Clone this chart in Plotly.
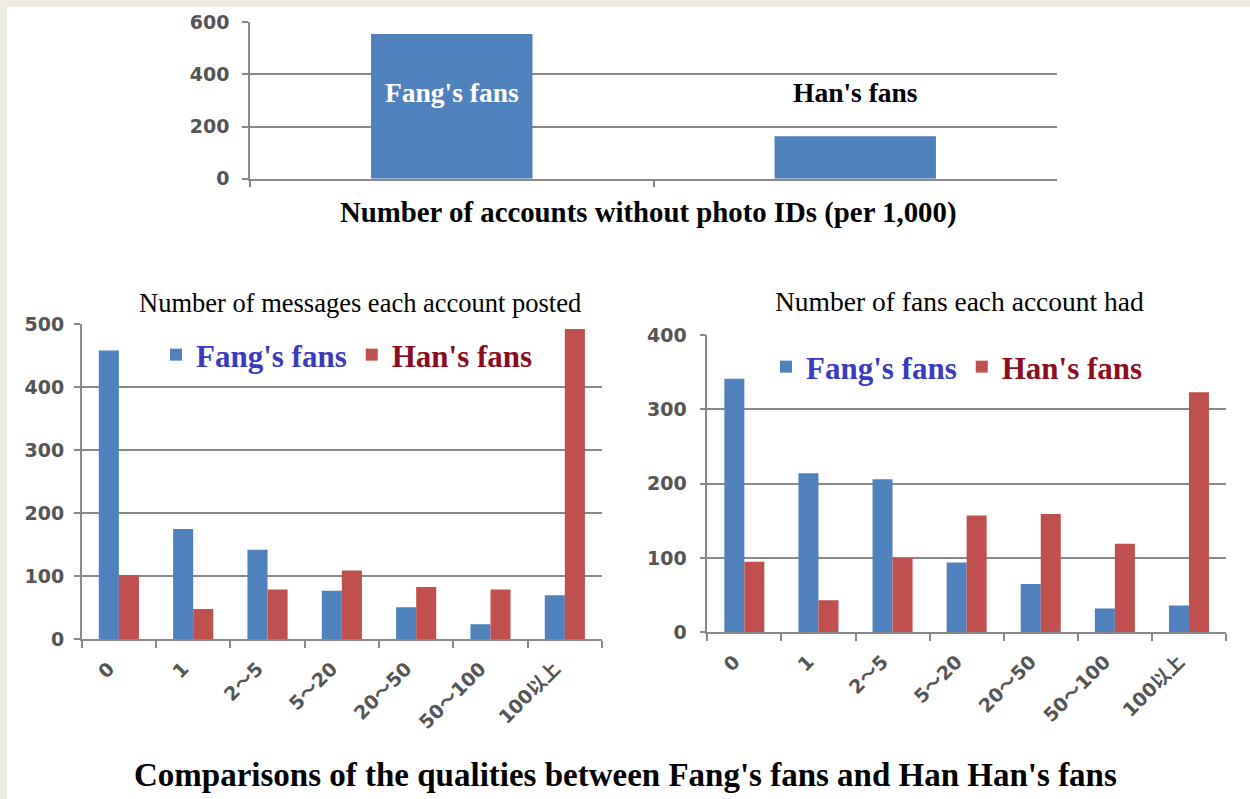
import plotly.graph_objects as go

W, H = 1250, 799

# ---------------- data ----------------
top_categories = ["Fang's fans", "Han's fans"]
top_values = [555, 163]

bins = ["0", "1", "2～5", "5～20", "20～50", "50～100", "100以上"]
msg_fang = [458, 175, 142, 77, 51, 24, 70]
msg_han = [102, 48, 79, 109, 83, 79, 492]
fans_fang = [341, 214, 206, 94, 65, 32, 36]
fans_han = [95, 43, 100, 157, 159, 119, 323]

series_names = ["Fang's fans", "Han's fans"]
top_title = "Number of accounts without photo IDs (per 1,000)"
left_title = "Number of messages each account posted"
right_title = "Number of fans each account had"
main_title = "Comparisons of the qualities between Fang's fans and Han Han's fans"

# ---------------- styles ----------------
BLUE = "#4F81BD"
RED = "#C0504D"
BLUE_TXT = "#3B3BBF"
RED_TXT = "#8C0D1F"
GRID = "#888888"
TICK_TXT = "#555555"
SERIF = "Liberation Serif, Times New Roman, serif"
SANS = "DejaVu Sans, Noto Sans CJK SC, sans-serif"


def px(x):
    return x / W


def py(y):
    return 1 - y / H


fig = go.Figure()

# top chart
fig.add_trace(go.Bar(
    x=top_categories, y=top_values, width=0.4,
    marker=dict(color=BLUE, line=dict(width=0)),
    xaxis="x", yaxis="y", showlegend=False, hoverinfo="x+y"))

# bottom-left chart
fig.add_trace(go.Bar(
    x=bins, y=msg_fang, name=f"<span style='color:{BLUE_TXT}'>{series_names[0]}</span>",
    marker=dict(color=BLUE, line=dict(width=0)), xaxis="x2", yaxis="y2", legend="legend"))
fig.add_trace(go.Bar(
    x=bins, y=msg_han, name=f"<span style='color:{RED_TXT}'>{series_names[1]}</span>",
    marker=dict(color=RED, line=dict(width=0)), xaxis="x2", yaxis="y2", legend="legend"))

# bottom-right chart
fig.add_trace(go.Bar(
    x=bins, y=fans_fang, name=f"<span style='color:{BLUE_TXT}'>{series_names[0]}</span>",
    marker=dict(color=BLUE, line=dict(width=0)), xaxis="x3", yaxis="y3", legend="legend2"))
fig.add_trace(go.Bar(
    x=bins, y=fans_han, name=f"<span style='color:{RED_TXT}'>{series_names[1]}</span>",
    marker=dict(color=RED, line=dict(width=0)), xaxis="x3", yaxis="y3", legend="legend2"))

xcommon = dict(type="category", showgrid=False, showline=True, linecolor=GRID, linewidth=1.5,
               ticks="outside", tickson="boundaries", ticklen=7, tickcolor=GRID, tickwidth=1.5,
               fixedrange=True, automargin=False)
ycommon = dict(showgrid=True, gridcolor=GRID, gridwidth=1.6, showline=True, linecolor=GRID,
               linewidth=1.5, ticks="outside", ticklen=6, tickcolor=GRID, tickwidth=1.5,
               zeroline=False, tickfont=dict(family=SANS, size=19, color=TICK_TXT, weight="bold"),
               fixedrange=True, automargin=False)
xtickfont = dict(family=SANS, size=19, color=TICK_TXT, weight="bold")

legend_common = dict(orientation="h", font=dict(family=SERIF, size=31, weight="bold"),
                     bgcolor="rgba(0,0,0,0)", borderwidth=0, xanchor="left", yanchor="middle",
                     traceorder="normal", itemclick=False, itemdoubleclick=False)

fig.update_layout(
    template="none",
    width=W, height=H, margin=dict(l=0, r=0, t=0, b=0, pad=0, autoexpand=False),
    paper_bgcolor="#EFEDE3", plot_bgcolor="white",
    barmode="group", bargap=0.46, bargroupgap=0,
    xaxis=dict(domain=[px(250), px(1057)], anchor="y", showticklabels=False, **xcommon),
    yaxis=dict(domain=[py(178.7), py(22.3)], anchor="x", range=[0, 600], dtick=200,
               ticklabelstandoff=9, **ycommon),
    xaxis2=dict(domain=[px(81.7), px(602)], anchor="y2", tickangle=-45, tickfont=xtickfont,
                ticklabelstandoff=9, ticklabelshift=-10, **xcommon),
    yaxis2=dict(domain=[py(639.3), py(324)], anchor="x2", range=[0, 500], dtick=100,
                ticklabelstandoff=6, **ycommon),
    xaxis3=dict(domain=[px(707.3), px(1226)], anchor="y3", tickangle=-45, tickfont=xtickfont,
                ticklabelstandoff=9, ticklabelshift=-10, **xcommon),
    yaxis3=dict(domain=[py(632.3), py(335)], anchor="x3", range=[0, 400], dtick=100,
                ticklabelstandoff=9, **ycommon),
    legend=dict(x=px(156), y=py(355), **legend_common),
    legend2=dict(x=px(766), y=py(367), **legend_common),
    showlegend=True,
)

# white page area
fig.add_shape(type="rect", xref="paper", yref="paper", x0=px(7), x1=1, y0=0, y1=py(7),
              fillcolor="white", line=dict(width=0), layer="below")

# labels for the top chart bars
fig.add_annotation(x=top_categories[0], y=py(93), xref="x", yref="paper", text=top_categories[0],
                   xanchor="center", yanchor="middle", showarrow=False,
                   font=dict(family=SERIF, size=27.5, color="white", weight="bold"))
fig.add_annotation(x=top_categories[1], y=py(93), xref="x", yref="paper", text=top_categories[1],
                   xanchor="center", yanchor="middle", showarrow=False,
                   font=dict(family=SERIF, size=27.5, color="black", weight="bold"))

# titles
title_specs = [
    (top_title, 648, 212, dict(family=SERIF, size=28.8, color="black", weight="bold")),
    (left_title, 360, 303, dict(family=SERIF, size=26.5, color="black")),
    (right_title, 959, 301, dict(family=SERIF, size=27.5, color="black")),
    (main_title, 625, 775, dict(family=SERIF, size=33, color="black", weight="bold")),
]
for text, cx, cy, font in title_specs:
    fig.add_annotation(x=px(cx), y=py(cy), xref="paper", yref="paper", text=text,
                       xanchor="center", yanchor="middle", showarrow=False, font=font)

fig.write_html("out.html")
